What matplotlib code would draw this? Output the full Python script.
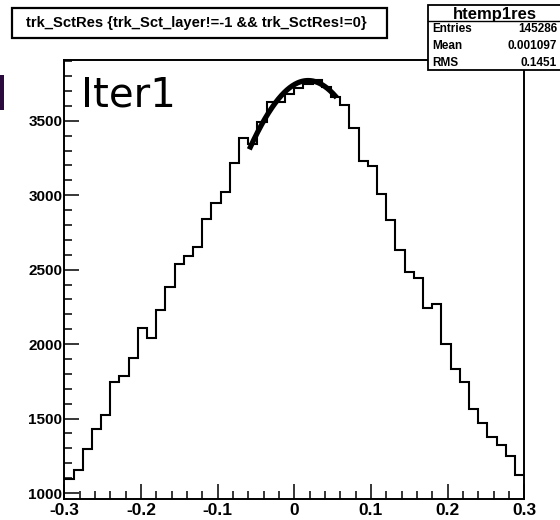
"""Residual histogram of SCT hits with a gaussian fit over the core."""

import numpy as np
import matplotlib
matplotlib.use("Agg")
import matplotlib.pyplot as plt
from matplotlib.patches import Rectangle
from matplotlib.ticker import MultipleLocator, FuncFormatter

plt.rcParams["axes.unicode_minus"] = False
plt.rcParams["font.family"] = ["Liberation Sans", "DejaVu Sans"]

# histogram binning and contents
x_lo, x_hi, n_bins = -0.3, 0.3, 50
counts = [
    1092, 1153, 1298, 1433, 1522, 1743, 1786, 1910, 2109, 2038,
    2228, 2385, 2537, 2592, 2649, 2837, 2949, 3023, 3213, 3386,
    3345, 3490, 3625, 3625, 3680, 3720, 3745, 3775, 3730, 3660,
    3606, 3454, 3230, 3196, 3008, 2835, 2631, 2485, 2445, 2241,
    2270, 2000, 1836, 1746, 1567, 1473, 1376, 1325, 1247, 1124,
]

# gaussian fit over the core
fit_const, fit_mean, fit_sigma = 3770, 0.018, 0.150
fit_lo, fit_hi = -0.0587, 0.0553

title = "trk_SctRes {trk_Sct_layer!=-1 && trk_SctRes!=0}"
stats_name = "htemp1res"
stats_rows = [("Entries", "145286"), ("Mean", "0.001097"), ("RMS", "0.1451")]

W, H = 560, 520
fig = plt.figure(figsize=(W / 100, H / 100), dpi=100)
fig.patch.set_facecolor("white")


def fx(px):
    return px / W


def fy(py):
    return 1 - py / H


ax = fig.add_axes([fx(64.3), fy(499.3), (524.3 - 64.3) / W, (499.3 - 60) / H])

edges = np.linspace(x_lo, x_hi, n_bins + 1)
ax.stairs(counts, edges, baseline=None, color="black", lw=1.5)

xf = np.linspace(fit_lo, fit_hi, 200)
yf = fit_const * np.exp(-0.5 * ((xf - fit_mean) / fit_sigma) ** 2)
ax.plot(xf, yf, color="black", lw=3.8, solid_capstyle="butt")

ax.set_xlim(x_lo, x_hi)
ax.set_ylim(958, 3908)

ax.xaxis.set_major_locator(MultipleLocator(0.1))
ax.xaxis.set_minor_locator(MultipleLocator(0.02))
ax.yaxis.set_major_locator(MultipleLocator(500))
ax.yaxis.set_minor_locator(MultipleLocator(100))
ax.xaxis.set_major_formatter(FuncFormatter(lambda v, p: "0" if abs(v) < 1e-9 else f"{v:.1f}"))
ax.yaxis.set_major_formatter(FuncFormatter(lambda v, p: f"{int(round(v))}"))

ax.tick_params(which="both", direction="in", top=False, right=False, width=1.1)
ax.tick_params(which="major", length=10.5)
ax.tick_params(which="minor", length=5.5)
ax.tick_params(axis="y", pad=1.5, labelsize=11)
ax.tick_params(axis="x", pad=3, labelsize=12.5)
for lab in ax.get_xticklabels() + ax.get_yticklabels():
    lab.set_fontweight("bold")
for sp in ax.spines.values():
    sp.set_linewidth(1.4)

# title box
fig.add_artist(Rectangle((fx(12), fy(38)), fx(387) - fx(12), fy(8) - fy(38),
                         transform=fig.transFigure, facecolor="white",
                         edgecolor="black", lw=1.6, zorder=5))
fig.text(fx(196), fy(23.5), title, ha="center", va="center",
         fontsize=10.6, fontweight="bold", zorder=6)

# statistics box
fig.add_artist(Rectangle((fx(428), fy(70)), fx(580) - fx(428), fy(5) - fy(70),
                         transform=fig.transFigure, facecolor="white",
                         edgecolor="black", lw=1.3, zorder=5))
fig.add_artist(plt.Line2D([fx(428), fx(580)], [fy(21), fy(21)],
                          transform=fig.transFigure, color="black", lw=1.0, zorder=6))
fig.text(fx(495), fy(14), stats_name, ha="center", va="center",
         fontsize=12, fontweight="bold", zorder=6)
for i, (name, val) in enumerate(stats_rows):
    yy = fy(29 + i * 17)
    fig.text(fx(432), yy, name, ha="left", va="center",
             fontsize=8.5, fontweight="bold", zorder=6)
    fig.text(fx(557), yy, val, ha="right", va="center",
             fontsize=8.5, fontweight="bold", zorder=6)

# iteration label and slide marker
fig.text(fx(81), fy(107), "Iter1", ha="left", va="baseline",
         fontsize=29, family="DejaVu Sans", zorder=6)
fig.add_artist(Rectangle((0, fy(110)), fx(3.5), fy(75) - fy(110),
                         transform=fig.transFigure, facecolor="#2b0a3d",
                         edgecolor="none", zorder=6))

fig.savefig("out.png", dpi=100)
